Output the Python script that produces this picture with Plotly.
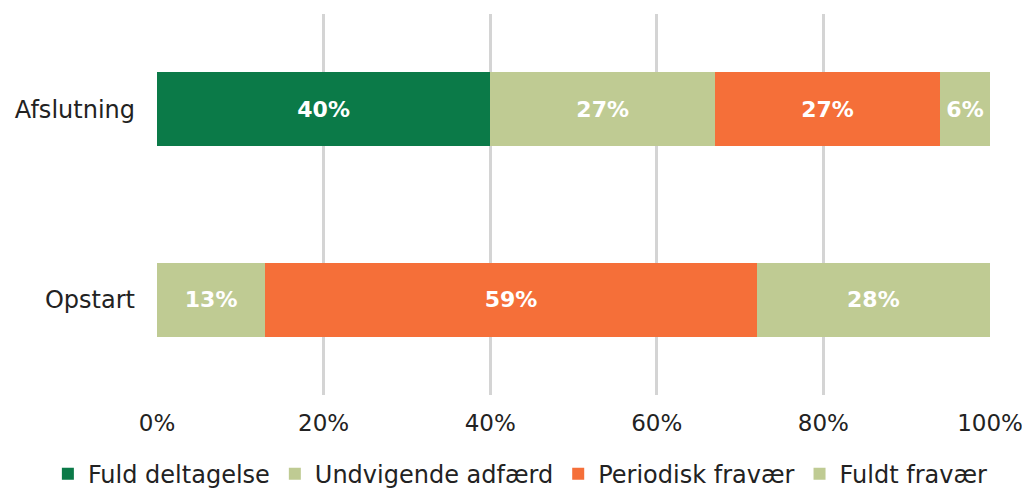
import plotly.graph_objects as go

categories = ["Opstart", "Afslutning"]
series_names = ["Fuld deltagelse", "Undvigende adfærd", "Periodisk fravær", "Fuldt fravær"]
fuld_deltagelse = [0, 40]
undvigende_adfaerd = [13, 27]
periodisk_fravaer = [59, 27]
fuldt_fravaer = [28, 6]
colors = ["#0b7a48", "#bfcb93", "#f56f39", "#bfcb93"]

values = [fuld_deltagelse, undvigende_adfaerd, periodisk_fravaer, fuldt_fravaer]

fig = go.Figure()
for name, vals, col in zip(series_names, values, colors):
    fig.add_trace(go.Bar(
        y=categories, x=[v / 100 for v in vals], name=name, orientation="h",
        marker=dict(color=col, line=dict(width=0)),
        text=[f"{v}%" if v > 0 else "" for v in vals],
        textposition="inside", insidetextanchor="middle",
        textfont=dict(color="white", size=22, family="DejaVu Sans", weight="bold"),
        width=0.39, hoverinfo="skip",
    ))

fig.update_layout(
    barmode="stack",
    width=1022, height=492,
    margin=dict(l=157, r=32, t=14, b=97, autoexpand=False),
    plot_bgcolor="white", paper_bgcolor="white",
    font=dict(family="DejaVu Sans", size=22, color="#222222"),
    showlegend=True,
    legend=dict(orientation="h", x=-0.131, xanchor="left", xref="paper",
                y=-0.208, yanchor="middle", yref="paper",
                font=dict(family="DejaVu Sans", size=24, color="#222222"),
                traceorder="normal"),
    xaxis=dict(range=[0, 1], tickvals=[0, 0.2, 0.4, 0.6, 0.8, 1.0], tickformat=".0%",
               showgrid=True, gridcolor="#d4d4d4", gridwidth=2.5, zeroline=False,
               showline=False, ticks="", tickfont=dict(size=23), ticklabelstandoff=12,
               ticklabeloverflow="allow", automargin=False),
    yaxis=dict(range=[-0.5, 1.5], showgrid=False, zeroline=False, ticks="",
               tickfont=dict(size=24), ticklabelstandoff=21, automargin=False),
)

fig.write_html("out.html", config={"displayModeBar": False},
               post_script="document.body.style.margin='0';document.body.style.overflow='hidden';")
